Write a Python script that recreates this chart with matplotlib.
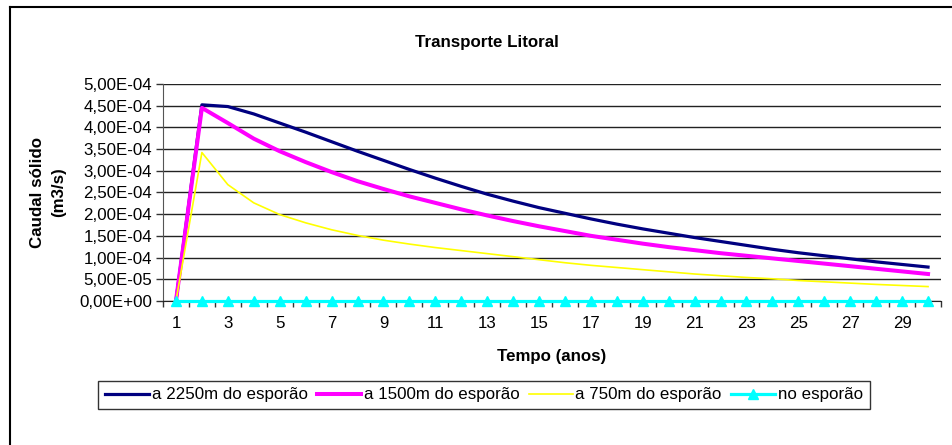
import matplotlib
matplotlib.use("Agg")
import matplotlib.pyplot as plt
from matplotlib.lines import Line2D
from matplotlib.ticker import FixedLocator, FuncFormatter, NullFormatter

plt.rcParams['font.family'] = ['Liberation Sans', 'DejaVu Sans']

# Years of simulation
anos = list(range(1, 31))

# Longshore sediment discharge (m3/s), in units of 1e-4
d2250 = [0, 4.52, 4.48, 4.31, 4.10, 3.89, 3.67, 3.45, 3.24, 3.03, 2.83, 2.64,
         2.46, 2.30, 2.15, 2.02, 1.89, 1.77, 1.66, 1.56, 1.46, 1.37, 1.28,
         1.19, 1.11, 1.04, 0.97, 0.90, 0.84, 0.78]
d1500 = [0, 4.45, 4.10, 3.74, 3.45, 3.20, 2.97, 2.76, 2.58, 2.41, 2.26, 2.11,
         1.97, 1.84, 1.72, 1.61, 1.50, 1.41, 1.32, 1.24, 1.17, 1.10, 1.04,
         0.98, 0.92, 0.86, 0.80, 0.74, 0.68, 0.62]
d750 = [0, 3.42, 2.68, 2.26, 1.99, 1.80, 1.64, 1.51, 1.40, 1.31, 1.23, 1.16,
        1.09, 1.02, 0.95, 0.88, 0.82, 0.77, 0.72, 0.67, 0.62, 0.58, 0.54,
        0.51, 0.47, 0.44, 0.41, 0.38, 0.355, 0.33]
d0 = [0] * 30

series_labels = ['a 2250m do esporão', 'a 1500m do esporão',
                 'a 750m do esporão', 'no esporão']
y_ticks = [i * 0.5e-4 for i in range(11)]
x_labels = list(range(1, 30, 2))

FS = 12.2


def scaled(v):
    return [x * 1e-4 for x in v]


W, H = 953, 445
fig = plt.figure(figsize=(W / 100, H / 100), dpi=100)

left, right, top, bottom = 163, 941, 84, 300.9
ax = fig.add_axes([left / W, 1 - bottom / H, (right - left) / W, (bottom - top) / H])

ax.plot(anos, scaled(d2250), color='#000080', lw=2.3, label=series_labels[0],
        solid_joinstyle='round', zorder=3)
ax.plot(anos, scaled(d1500), color='#FF00FF', lw=2.9, label=series_labels[1],
        solid_joinstyle='round', zorder=4)
ax.plot(anos, scaled(d750), color='#FFFF00', lw=1.2, label=series_labels[2],
        solid_joinstyle='round', zorder=5)
ax.plot(anos, scaled(d0), color='#00FFFF', lw=2.3, marker='^', ms=7.5,
        mec='#00FFFF', mfc='#00FFFF', label=series_labels[3], zorder=6,
        clip_on=False)

ax.set_xlim(0.5, 30.5)
ax.set_ylim(0, 5e-4)

# Horizontal gridlines
for yv in y_ticks:
    ax.axhline(yv, color='#222222', lw=1.0, zorder=1)

ax.set_yticks(y_ticks)
ax.yaxis.set_major_formatter(FuncFormatter(
    lambda v, p: ('%.2E' % v).replace('.', ',')))

# Category axis: tick marks between categories, labels on every other one
ax.xaxis.set_major_locator(FixedLocator([i + 0.5 for i in range(0, 31)]))
ax.xaxis.set_major_formatter(NullFormatter())
ax.xaxis.set_minor_locator(FixedLocator(x_labels))
ax.xaxis.set_minor_formatter(FuncFormatter(lambda v, p: '%d' % v))

ax.tick_params(axis='y', which='major', direction='out', length=5, width=1,
               color='#333333', labelsize=FS, pad=3)
ax.tick_params(axis='x', which='major', direction='out', length=4, width=1,
               color='#333333')
ax.tick_params(axis='x', which='minor', length=0, labelsize=FS, pad=11)

for s in ['top', 'right']:
    ax.spines[s].set_visible(False)
ax.spines['left'].set_color('#555555')
ax.spines['bottom'].set_color('#222222')

ax.set_ylabel('Caudal sólido\n(m3/s)', fontsize=FS, fontweight='bold',
              linespacing=1.45)
ax.yaxis.set_label_coords(-0.125, 0.5)
ax.set_xlabel('Tempo (anos)', fontsize=FS, fontweight='bold', labelpad=13)

fig.text(487 / W, 1 - 42 / H, 'Transporte Litoral', ha='center', va='center',
         fontsize=FS, fontweight='bold')

leg = fig.legend(loc='center', bbox_to_anchor=(484 / W, 1 - 395 / H), ncol=4,
                 fontsize=FS, frameon=True, fancybox=False, edgecolor='black',
                 handlelength=2.6, handletextpad=0.15, columnspacing=0.55,
                 borderpad=0.4, borderaxespad=0)
leg.get_frame().set_linewidth(1.0)

# Chart area border (extends past the right and bottom edges)
fig.add_artist(Line2D([10 / W, 10 / W], [1 - 7 / H, -0.05], color='black',
                      lw=1.5, transform=fig.transFigure, clip_on=False))
fig.add_artist(Line2D([10 / W, 1.05], [1 - 7 / H, 1 - 7 / H], color='black',
                      lw=1.5, transform=fig.transFigure, clip_on=False))

fig.savefig('out.png', dpi=100)
